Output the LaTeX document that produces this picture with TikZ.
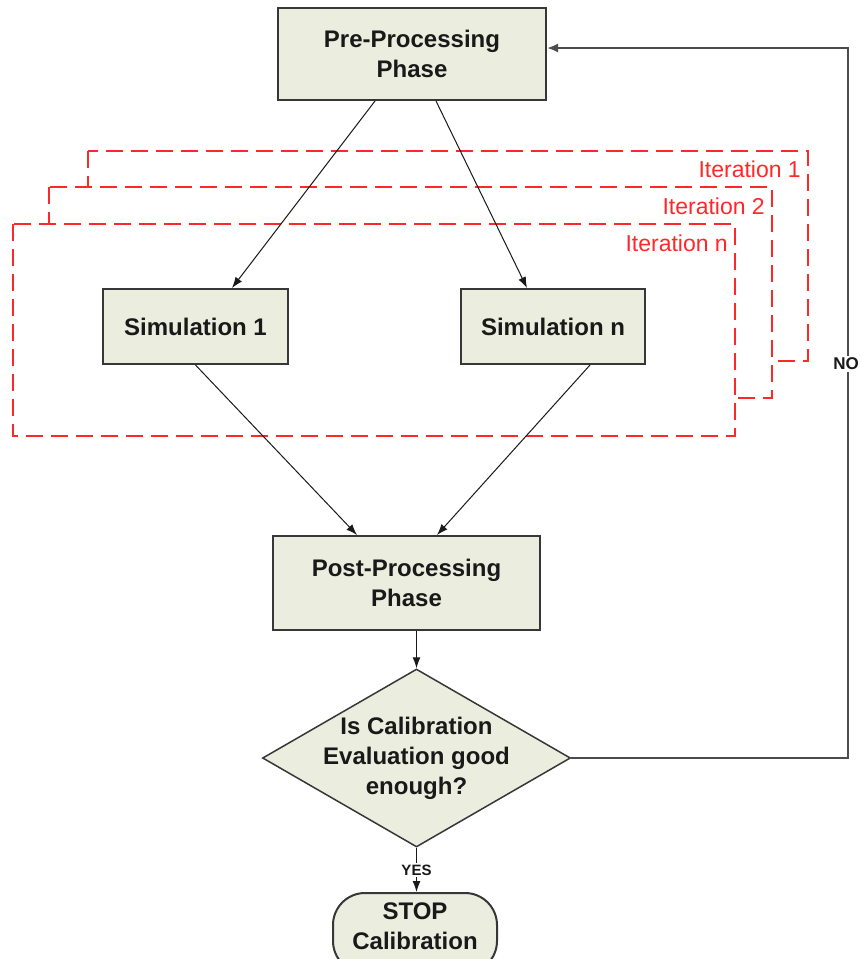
\documentclass[tikz,border=0pt]{standalone}
\usepackage{fontspec}
\setmainfont{Liberation Sans}
\usetikzlibrary{shapes.geometric,arrows.meta,calc}

\definecolor{boxfill}{RGB}{235,237,222}
\definecolor{boxedge}{RGB}{55,55,55}
\definecolor{iterred}{RGB}{255,40,40}
\definecolor{inktext}{RGB}{25,25,25}

\tikzset{
  procbox/.style={draw=boxedge, line width=2pt, fill=boxfill, align=center,
    inner sep=0pt, text=inktext, font=\bfseries\fontsize{24}{30}\selectfont},
  boxtext/.style={align=center, inner sep=0pt, text=inktext,
    font=\bfseries\fontsize{24}{30}\selectfont},
  decision/.style={diamond, draw=boxedge, line width=1.5pt, fill=boxfill,
    inner sep=0pt, minimum width=308pt, minimum height=178pt},
  terminal/.style={procbox, rounded corners=32pt},
  flow/.style={draw=inktext, line width=1pt, -{Latex[length=11pt,width=8pt]}},
  loopback/.style={draw=black!70, line width=2pt, -{Latex[length=11pt,width=9pt]}},
  iterbox/.style={draw=iterred, fill=white, line width=2.5pt,
    dash pattern=on 17pt off 8pt},
  iterlabel/.style={text=iterred, anchor=east, inner sep=0pt,
    font=\fontsize{23}{28}\selectfont},
  branchlabel/.style={fill=white, inner sep=2pt, text=inktext,
    font=\bfseries\fontsize{15}{18}\selectfont},
}

\begin{document}
\begin{tikzpicture}[x=1pt,y=-1pt]
  \useasboundingbox (0,0) rectangle (860,959);

  % stacked iteration frames, back to front
  \draw[iterbox] (88,151) rectangle (808,361);
  \draw[iterbox] (49,187) rectangle (772,398);
  \draw[iterbox] (13,224) rectangle (735,436);
  \node[iterlabel] (it1) at (801,169) {Iteration 1};
  \node[iterlabel] (it2) at (765,206) {Iteration 2};
  \node[iterlabel] (itn) at (728,243) {Iteration n};

  % process steps
  \node[procbox, minimum width=268pt, minimum height=92pt] (pre) at (412,54)
    {Pre-Processing\\Phase};
  \node[procbox, minimum width=185pt, minimum height=75pt] (sim1) at (195.5,326.5)
    {Simulation 1};
  \node[procbox, minimum width=184pt, minimum height=75pt] (simn) at (553,326.5)
    {Simulation n};
  \node[procbox, minimum width=267pt, minimum height=94pt] (post) at (406.5,583)
    {Post-Processing\\Phase};
  \node[decision] (dec) at (416.5,758) {};
  \node[boxtext] (dectext) at (dec.center) {Is Calibration\\Evaluation good\\enough?};
  % terminal runs past the lower edge; its text sits in the visible part
  \node[terminal, minimum width=164pt, minimum height=80pt] (stop) at (415,933) {};
  \node[boxtext] (stoptext) at (415,926) {STOP\\Calibration};

  % connectors
  \draw[flow] ($(pre.south)+(-37,0)$) -- ($(sim1.north)+(36.5,0)$);
  \draw[flow] ($(pre.south)+(24,0)$) -- ($(simn.north)+(-26,0)$);
  \draw[flow] (sim1.south) -- ($(post.north)+(-49.5,0)$);
  \draw[flow] ($(simn.south)+(37,0)$) -- ($(post.north)+(30.5,0)$);
  \draw[flow] (post.south -| dec.north) -- (dec.north);
  \draw[flow] (dec.south) -- (stop.north -| dec.south)
    node[midway, branchlabel] (yes) {YES};

  % retry loop
  \coordinate (turn) at (848,758);
  \draw[loopback] (dec.east) -- (turn) |- ($(pre.east)+(0,-6)$);
  \node[branchlabel, font=\bfseries\fontsize{17}{20}\selectfont] (no) at (846,364) {NO};
\end{tikzpicture}
\end{document}
